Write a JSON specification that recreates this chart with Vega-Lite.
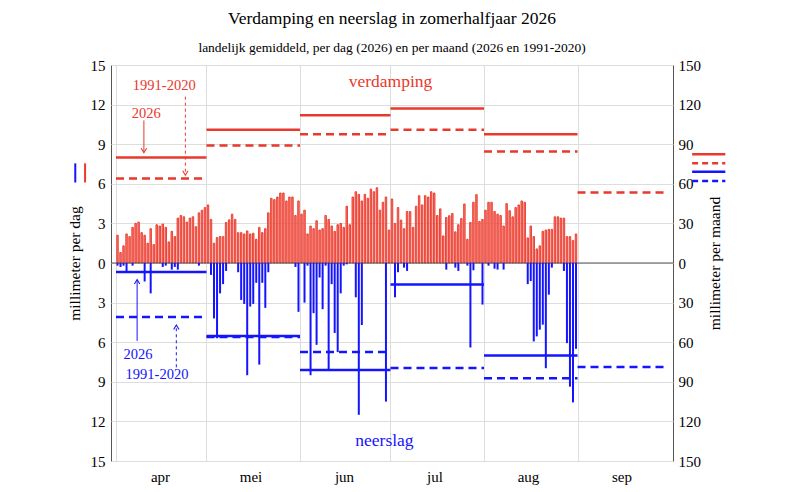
{
  "$schema": "https://vega.github.io/schema/vega-lite/v6.json",
  "width": 562,
  "height": 396,
  "autosize": "none",
  "padding": {"left": 111, "top": 65, "right": 117, "bottom": 31},
  "title": {
    "text": "Verdamping en neerslag in zomerhalfjaar 2026",
    "subtitle": "landelijk gemiddeld, per dag (2026) en per maand (2026 en 1991-2020)",
    "font": "Liberation Serif",
    "fontSize": 17.5,
    "fontWeight": "normal",
    "subtitleFont": "Liberation Serif",
    "subtitleFontSize": 13.5,
    "subtitleColor": "black",
    "anchor": "middle",
    "frame": "group",
    "offset": 4,
    "subtitlePadding": 13
  },
  "datasets": {
    "dag": [
      {"d": "2026-04-01", "v": 2.1, "n": 0.2}, {"d": "2026-04-02", "v": 0.8, "n": 0.3}, {"d": "2026-04-03", "v": 1.3, "n": 0.2},
      {"d": "2026-04-04", "v": 2.2, "n": 0.7}, {"d": "2026-04-05", "v": 2.0, "n": 0}, {"d": "2026-04-06", "v": 2.7, "n": 0.2},
      {"d": "2026-04-07", "v": 3.0, "n": 0}, {"d": "2026-04-08", "v": 3.1, "n": 0}, {"d": "2026-04-09", "v": 2.3, "n": 0},
      {"d": "2026-04-10", "v": 2.1, "n": 1.4}, {"d": "2026-04-11", "v": 1.5, "n": 0}, {"d": "2026-04-12", "v": 2.6, "n": 2.3},
      {"d": "2026-04-13", "v": 1.4, "n": 0}, {"d": "2026-04-14", "v": 2.9, "n": 0}, {"d": "2026-04-15", "v": 2.8, "n": 0},
      {"d": "2026-04-16", "v": 2.95, "n": 0.3}, {"d": "2026-04-17", "v": 2.7, "n": 0.2}, {"d": "2026-04-18", "v": 1.6, "n": 0},
      {"d": "2026-04-19", "v": 2.4, "n": 0.5}, {"d": "2026-04-20", "v": 2.0, "n": 0.3}, {"d": "2026-04-21", "v": 3.4, "n": 0.5},
      {"d": "2026-04-22", "v": 3.6, "n": 0}, {"d": "2026-04-23", "v": 3.5, "n": 0}, {"d": "2026-04-24", "v": 3.1, "n": 0},
      {"d": "2026-04-25", "v": 3.4, "n": 0}, {"d": "2026-04-26", "v": 3.5, "n": 0}, {"d": "2026-04-27", "v": 2.75, "n": 0},
      {"d": "2026-04-28", "v": 3.8, "n": 0.2}, {"d": "2026-04-29", "v": 4.0, "n": 0}, {"d": "2026-04-30", "v": 4.2, "n": 0},
      {"d": "2026-05-01", "v": 4.4, "n": 0}, {"d": "2026-05-02", "v": 3.3, "n": 0.9}, {"d": "2026-05-03", "v": 1.5, "n": 4.2},
      {"d": "2026-05-04", "v": 1.93, "n": 5.7}, {"d": "2026-05-05", "v": 2.0, "n": 2.3}, {"d": "2026-05-06", "v": 2.0, "n": 1.6},
      {"d": "2026-05-07", "v": 3.07, "n": 0.6}, {"d": "2026-05-08", "v": 3.27, "n": 0}, {"d": "2026-05-09", "v": 3.7, "n": 0},
      {"d": "2026-05-10", "v": 3.3, "n": 0}, {"d": "2026-05-11", "v": 2.3, "n": 0.7}, {"d": "2026-05-12", "v": 2.3, "n": 2.8},
      {"d": "2026-05-13", "v": 2.2, "n": 3.1}, {"d": "2026-05-14", "v": 2.43, "n": 8.5}, {"d": "2026-05-15", "v": 2.2, "n": 3.3},
      {"d": "2026-05-16", "v": 2.25, "n": 3.1}, {"d": "2026-05-17", "v": 1.8, "n": 1.5}, {"d": "2026-05-18", "v": 2.7, "n": 7.7},
      {"d": "2026-05-19", "v": 2.3, "n": 1.5}, {"d": "2026-05-20", "v": 2.6, "n": 3.4}, {"d": "2026-05-21", "v": 3.8, "n": 0.7},
      {"d": "2026-05-22", "v": 4.9, "n": 0}, {"d": "2026-05-23", "v": 4.8, "n": 0}, {"d": "2026-05-24", "v": 5.0, "n": 0},
      {"d": "2026-05-25", "v": 5.3, "n": 0}, {"d": "2026-05-26", "v": 5.3, "n": 0}, {"d": "2026-05-27", "v": 4.7, "n": 0},
      {"d": "2026-05-28", "v": 5.0, "n": 0}, {"d": "2026-05-29", "v": 5.0, "n": 0}, {"d": "2026-05-30", "v": 3.6, "n": 0.3},
      {"d": "2026-05-31", "v": 4.7, "n": 3.7},
      {"d": "2026-06-01", "v": 3.7, "n": 0}, {"d": "2026-06-02", "v": 4.0, "n": 3.0}, {"d": "2026-06-03", "v": 2.2, "n": 0.2},
      {"d": "2026-06-04", "v": 2.8, "n": 8.5}, {"d": "2026-06-05", "v": 2.6, "n": 3.8}, {"d": "2026-06-06", "v": 3.2, "n": 6.2},
      {"d": "2026-06-07", "v": 2.5, "n": 1.1}, {"d": "2026-06-08", "v": 2.6, "n": 3.5}, {"d": "2026-06-09", "v": 3.6, "n": 0.2},
      {"d": "2026-06-10", "v": 3.3, "n": 8.1}, {"d": "2026-06-11", "v": 2.8, "n": 1.6}, {"d": "2026-06-12", "v": 2.4, "n": 5.3},
      {"d": "2026-06-13", "v": 2.9, "n": 6.75}, {"d": "2026-06-14", "v": 3.0, "n": 2.3}, {"d": "2026-06-15", "v": 2.7, "n": 0.2},
      {"d": "2026-06-16", "v": 4.3, "n": 0.1}, {"d": "2026-06-17", "v": 2.9, "n": 0}, {"d": "2026-06-18", "v": 5.0, "n": 0},
      {"d": "2026-06-19", "v": 5.4, "n": 2.6}, {"d": "2026-06-20", "v": 5.2, "n": 11.5}, {"d": "2026-06-21", "v": 4.7, "n": 4.7},
      {"d": "2026-06-22", "v": 5.2, "n": 0}, {"d": "2026-06-23", "v": 4.9, "n": 0}, {"d": "2026-06-24", "v": 5.6, "n": 0},
      {"d": "2026-06-25", "v": 5.4, "n": 0}, {"d": "2026-06-26", "v": 5.7, "n": 0}, {"d": "2026-06-27", "v": 4.0, "n": 0},
      {"d": "2026-06-28", "v": 4.6, "n": 0}, {"d": "2026-06-29", "v": 5.0, "n": 10.5}, {"d": "2026-06-30", "v": 2.5, "n": 0},
      {"d": "2026-07-01", "v": 4.85, "n": 0}, {"d": "2026-07-02", "v": 3.0, "n": 2.6}, {"d": "2026-07-03", "v": 4.2, "n": 0.7},
      {"d": "2026-07-04", "v": 3.25, "n": 0}, {"d": "2026-07-05", "v": 2.6, "n": 0.35}, {"d": "2026-07-06", "v": 3.9, "n": 0.6},
      {"d": "2026-07-07", "v": 3.9, "n": 0}, {"d": "2026-07-08", "v": 2.7, "n": 0}, {"d": "2026-07-09", "v": 4.3, "n": 0},
      {"d": "2026-07-10", "v": 5.1, "n": 0}, {"d": "2026-07-11", "v": 4.4, "n": 0}, {"d": "2026-07-12", "v": 5.1, "n": 0},
      {"d": "2026-07-13", "v": 5.0, "n": 0}, {"d": "2026-07-14", "v": 5.4, "n": 0}, {"d": "2026-07-15", "v": 5.3, "n": 0},
      {"d": "2026-07-16", "v": 3.6, "n": 0}, {"d": "2026-07-17", "v": 4.1, "n": 0}, {"d": "2026-07-18", "v": 2.05, "n": 0},
      {"d": "2026-07-19", "v": 3.45, "n": 0.5}, {"d": "2026-07-20", "v": 3.58, "n": 0}, {"d": "2026-07-21", "v": 3.75, "n": 0},
      {"d": "2026-07-22", "v": 2.36, "n": 0.35}, {"d": "2026-07-23", "v": 2.9, "n": 0.6}, {"d": "2026-07-24", "v": 3.37, "n": 0},
      {"d": "2026-07-25", "v": 4.47, "n": 0}, {"d": "2026-07-26", "v": 1.8, "n": 0.2}, {"d": "2026-07-27", "v": 3.07, "n": 6.4},
      {"d": "2026-07-28", "v": 4.6, "n": 0.55}, {"d": "2026-07-29", "v": 5.18, "n": 0}, {"d": "2026-07-30", "v": 3.15, "n": 0},
      {"d": "2026-07-31", "v": 3.3, "n": 3.15},
      {"d": "2026-08-01", "v": 4.0, "n": 0}, {"d": "2026-08-02", "v": 4.6, "n": 0.2}, {"d": "2026-08-03", "v": 4.6, "n": 0},
      {"d": "2026-08-04", "v": 3.9, "n": 0.43}, {"d": "2026-08-05", "v": 3.7, "n": 0.5}, {"d": "2026-08-06", "v": 3.6, "n": 0},
      {"d": "2026-08-07", "v": 2.8, "n": 0.5}, {"d": "2026-08-08", "v": 4.5, "n": 0}, {"d": "2026-08-09", "v": 3.96, "n": 0},
      {"d": "2026-08-10", "v": 3.5, "n": 0}, {"d": "2026-08-11", "v": 4.2, "n": 0}, {"d": "2026-08-12", "v": 4.4, "n": 0},
      {"d": "2026-08-13", "v": 4.7, "n": 0}, {"d": "2026-08-14", "v": 4.6, "n": 0}, {"d": "2026-08-15", "v": 1.9, "n": 1.6},
      {"d": "2026-08-16", "v": 2.8, "n": 1.37}, {"d": "2026-08-17", "v": 2.0, "n": 5.94}, {"d": "2026-08-18", "v": 1.07, "n": 5.56},
      {"d": "2026-08-19", "v": 1.3, "n": 5.05}, {"d": "2026-08-20", "v": 2.4, "n": 4.67}, {"d": "2026-08-21", "v": 2.5, "n": 7.97},
      {"d": "2026-08-22", "v": 2.55, "n": 2.4}, {"d": "2026-08-23", "v": 2.55, "n": 0.35}, {"d": "2026-08-24", "v": 3.5, "n": 0},
      {"d": "2026-08-25", "v": 3.5, "n": 0}, {"d": "2026-08-26", "v": 3.4, "n": 0}, {"d": "2026-08-27", "v": 3.4, "n": 0.6},
      {"d": "2026-08-28", "v": 2.0, "n": 6.07}, {"d": "2026-08-29", "v": 2.0, "n": 9.37}, {"d": "2026-08-30", "v": 1.7, "n": 10.56},
      {"d": "2026-08-31", "v": 2.2, "n": 6.5}
    ],
    "maand": [
      {"begin": "2026-04-01", "eind": "2026-05-01", "soort": "verdamping", "periode": "2026", "mm": 80},
      {"begin": "2026-05-01", "eind": "2026-06-01", "soort": "verdamping", "periode": "2026", "mm": 101},
      {"begin": "2026-06-01", "eind": "2026-07-01", "soort": "verdamping", "periode": "2026", "mm": 112},
      {"begin": "2026-07-01", "eind": "2026-08-01", "soort": "verdamping", "periode": "2026", "mm": 117},
      {"begin": "2026-08-01", "eind": "2026-09-01", "soort": "verdamping", "periode": "2026", "mm": 97.5},
      {"begin": "2026-04-01", "eind": "2026-05-01", "soort": "verdamping", "periode": "1991-2020", "mm": 64},
      {"begin": "2026-05-01", "eind": "2026-06-01", "soort": "verdamping", "periode": "1991-2020", "mm": 89},
      {"begin": "2026-06-01", "eind": "2026-07-01", "soort": "verdamping", "periode": "1991-2020", "mm": 97.5},
      {"begin": "2026-07-01", "eind": "2026-08-01", "soort": "verdamping", "periode": "1991-2020", "mm": 101},
      {"begin": "2026-08-01", "eind": "2026-09-01", "soort": "verdamping", "periode": "1991-2020", "mm": 84.5},
      {"begin": "2026-09-01", "eind": "2026-10-01", "soort": "verdamping", "periode": "1991-2020", "mm": 53.5},
      {"begin": "2026-04-01", "eind": "2026-05-01", "soort": "neerslag", "periode": "2026", "mm": 6.9},
      {"begin": "2026-05-01", "eind": "2026-06-01", "soort": "neerslag", "periode": "2026", "mm": 55.3},
      {"begin": "2026-06-01", "eind": "2026-07-01", "soort": "neerslag", "periode": "2026", "mm": 81},
      {"begin": "2026-07-01", "eind": "2026-08-01", "soort": "neerslag", "periode": "2026", "mm": 16.3},
      {"begin": "2026-08-01", "eind": "2026-09-01", "soort": "neerslag", "periode": "2026", "mm": 70},
      {"begin": "2026-04-01", "eind": "2026-05-01", "soort": "neerslag", "periode": "1991-2020", "mm": 41},
      {"begin": "2026-05-01", "eind": "2026-06-01", "soort": "neerslag", "periode": "1991-2020", "mm": 56},
      {"begin": "2026-06-01", "eind": "2026-07-01", "soort": "neerslag", "periode": "1991-2020", "mm": 67.5},
      {"begin": "2026-07-01", "eind": "2026-08-01", "soort": "neerslag", "periode": "1991-2020", "mm": 79.5},
      {"begin": "2026-08-01", "eind": "2026-09-01", "soort": "neerslag", "periode": "1991-2020", "mm": 87.3},
      {"begin": "2026-09-01", "eind": "2026-10-01", "soort": "neerslag", "periode": "1991-2020", "mm": 78.7}
    ]
  },
  "resolve": {"scale": {"y": "independent"}, "axis": {"y": "independent"}},
  "layer": [
    {
      "layer": [
        {
          "data": {"name": "dag"},
          "mark": {"type": "bar", "width": 1.5, "xOffset": 1.5, "fill": "#f47c72", "stroke": "#ec3528", "strokeWidth": 0.9},
          "encoding": {
            "x": {
              "field": "d",
              "type": "temporal",
              "scale": {
                "type": "utc",
                "domain": [
                  {"year": 2026, "month": 4, "date": 1, "utc": true},
                  {"year": 2026, "month": 10, "date": 1, "utc": true}
                ]
              },
              "axis": {
                "title": null,
                "values": [
                  {"year": 2026, "month": 4, "date": 1, "utc": true},
                  {"year": 2026, "month": 5, "date": 1, "utc": true},
                  {"year": 2026, "month": 6, "date": 1, "utc": true},
                  {"year": 2026, "month": 7, "date": 1, "utc": true},
                  {"year": 2026, "month": 8, "date": 1, "utc": true},
                  {"year": 2026, "month": 9, "date": 1, "utc": true}
                ],
                "tickCount": 12,
                "labelExpr": "['jan','feb','mrt','apr','mei','jun','jul','aug','sep','okt','nov','dec'][utcmonth(datum.value)]",
                "labelOffset": 44,
                "labelFlush": false,
                "labelOverlap": false,
                "labelPadding": 8,
                "grid": true,
                "gridColor": "#dddddd"
              }
            },
            "y": {
              "field": "v",
              "type": "quantitative",
              "scale": {"domain": [-15, 15], "nice": false},
              "axis": {
                "orient": "left",
                "title": "millimeter per dag",
                "values": [-15, -12, -9, -6, -3, 0, 3, 6, 9, 12, 15],
                "tickCount": 12,
                "labelExpr": "'' + abs(datum.value)",
                "labelOverlap": false,
                "grid": true,
                "gridColor": "#dddddd",
                "labelPadding": 6,
                "titlePadding": 8
              }
            }
          }
        },
        {
          "data": {"values": [{}]},
          "mark": {"type": "rule", "color": "#555555", "strokeWidth": 1.2},
          "encoding": {"y": {"datum": 0}}
        },
        {
          "data": {"values": [{}]},
          "mark": {"type": "text", "text": "verdamping", "color": "#e8392c", "font": "Liberation Serif", "fontSize": 17.5},
          "encoding": {
            "x": {"datum": {"year": 2026, "month": 7, "date": 1, "utc": true}, "type": "temporal"},
            "y": {"datum": 13.7}
          }
        },
        {
          "data": {"values": [{}]},
          "mark": {"type": "text", "text": "neerslag", "color": "#1414ff", "font": "Liberation Serif", "fontSize": 17.5},
          "encoding": {
            "x": {"datum": {"year": 2026, "month": 6, "date": 29, "utc": true}, "type": "temporal"},
            "y": {"datum": -13.5}
          }
        },
        {
          "data": {"values": [{}]},
          "mark": {"type": "text", "text": "1991-2020", "color": "#e8392c", "font": "Liberation Serif", "fontSize": 14.5},
          "encoding": {
            "x": {"datum": {"year": 2026, "month": 4, "date": 17, "utc": true}, "type": "temporal"},
            "y": {"datum": 13.4}
          }
        },
        {
          "data": {"values": [{}]},
          "mark": {"type": "text", "text": "2026", "color": "#e8392c", "font": "Liberation Serif", "fontSize": 14.5},
          "encoding": {
            "x": {"datum": {"year": 2026, "month": 4, "date": 11, "utc": true}, "type": "temporal"},
            "y": {"datum": 11.3}
          }
        },
        {
          "data": {"values": [{}]},
          "mark": {"type": "text", "text": "2026", "color": "#1414ff", "font": "Liberation Serif", "fontSize": 14.5},
          "encoding": {
            "x": {"datum": {"year": 2026, "month": 4, "date": 8, "hours": 7, "utc": true}, "type": "temporal"},
            "y": {"datum": -7.0}
          }
        },
        {
          "data": {"values": [{}]},
          "mark": {"type": "text", "text": "1991-2020", "color": "#1414ff", "font": "Liberation Serif", "fontSize": 14.5},
          "encoding": {
            "x": {"datum": {"year": 2026, "month": 4, "date": 14, "hours": 14, "utc": true}, "type": "temporal"},
            "y": {"datum": -8.5}
          }
        },
        {
          "data": {"values": [{}]},
          "mark": {"type": "rule", "color": "#e8392c", "strokeWidth": 1},
          "encoding": {
            "x": {"datum": {"year": 2026, "month": 4, "date": 10, "hours": 6, "utc": true}, "type": "temporal"},
            "y": {"datum": 10.8},
            "y2": {"datum": 8.4}
          }
        },
        {
          "data": {"values": [{}]},
          "mark": {"type": "point", "shape": "M-0.6,-1L0,0L0.6,-1", "filled": false, "size": 80, "color": "#e8392c", "strokeWidth": 1.1, "opacity": 1},
          "encoding": {
            "x": {"datum": {"year": 2026, "month": 4, "date": 10, "hours": 6, "utc": true}, "type": "temporal"},
            "y": {"datum": 8.35}
          }
        },
        {
          "data": {"values": [{}]},
          "mark": {"type": "rule", "color": "#e8392c", "strokeWidth": 1, "strokeDash": [3, 3]},
          "encoding": {
            "x": {"datum": {"year": 2026, "month": 4, "date": 24, "utc": true}, "type": "temporal"},
            "y": {"datum": 12.6},
            "y2": {"datum": 6.7}
          }
        },
        {
          "data": {"values": [{}]},
          "mark": {"type": "point", "shape": "M-0.6,-1L0,0L0.6,-1", "filled": false, "size": 80, "color": "#e8392c", "strokeWidth": 1.1, "opacity": 1},
          "encoding": {
            "x": {"datum": {"year": 2026, "month": 4, "date": 24, "utc": true}, "type": "temporal"},
            "y": {"datum": 6.65}
          }
        },
        {
          "data": {"values": [{}]},
          "mark": {"type": "rule", "color": "#1414ff", "strokeWidth": 1},
          "encoding": {
            "x": {"datum": {"year": 2026, "month": 4, "date": 8, "utc": true}, "type": "temporal"},
            "y": {"datum": -5.9},
            "y2": {"datum": -1.3}
          }
        },
        {
          "data": {"values": [{}]},
          "mark": {"type": "point", "shape": "M-0.6,1L0,0L0.6,1", "filled": false, "size": 80, "color": "#1414ff", "strokeWidth": 1.1, "opacity": 1},
          "encoding": {
            "x": {"datum": {"year": 2026, "month": 4, "date": 8, "utc": true}, "type": "temporal"},
            "y": {"datum": -1.25}
          }
        },
        {
          "data": {"values": [{}]},
          "mark": {"type": "rule", "color": "#1414ff", "strokeWidth": 1, "strokeDash": [3, 3]},
          "encoding": {
            "x": {"datum": {"year": 2026, "month": 4, "date": 21, "utc": true}, "type": "temporal"},
            "y": {"datum": -7.9},
            "y2": {"datum": -4.75}
          }
        },
        {
          "data": {"values": [{}]},
          "mark": {"type": "point", "shape": "M-0.6,1L0,0L0.6,1", "filled": false, "size": 80, "color": "#1414ff", "strokeWidth": 1.1, "opacity": 1},
          "encoding": {
            "x": {"datum": {"year": 2026, "month": 4, "date": 21, "utc": true}, "type": "temporal"},
            "y": {"datum": -4.7}
          }
        },
        {
          "data": {"values": [{}]},
          "mark": {"type": "rule", "color": "#1414ff", "strokeWidth": 2},
          "encoding": {
            "x": {"datum": {"year": 2026, "month": 3, "date": 18, "hours": 12, "utc": true}, "type": "temporal"},
            "y": {"datum": 6.1},
            "y2": {"datum": 7.55}
          }
        },
        {
          "data": {"values": [{}]},
          "mark": {"type": "rule", "color": "#e8392c", "strokeWidth": 2},
          "encoding": {
            "x": {"datum": {"year": 2026, "month": 3, "date": 21, "hours": 18, "utc": true}, "type": "temporal"},
            "y": {"datum": 6.1},
            "y2": {"datum": 7.55}
          }
        }
      ]
    },
    {
      "data": {"name": "dag"},
      "transform": [{"filter": "datum.n > 0"}],
      "mark": {"type": "bar", "width": 2, "xOffset": 1.5, "color": "#1414ff"},
      "encoding": {
        "x": {"field": "d", "type": "temporal"},
        "y": {
          "field": "n",
          "type": "quantitative",
          "scale": {"domain": [-15, 15], "nice": false, "reverse": true},
          "axis": null
        }
      }
    },
    {
      "layer": [
        {
          "data": {"name": "maand"},
          "transform": [{"filter": "datum.soort == 'verdamping' && datum.periode == '2026'"}],
          "mark": {"type": "rule", "color": "#e8392c", "strokeWidth": 2.5},
          "encoding": {
            "x": {"field": "begin", "type": "temporal"},
            "x2": {"field": "eind"},
            "y": {
              "field": "mm",
              "type": "quantitative",
              "scale": {"domain": [-150, 150], "nice": false},
              "axis": {
                "orient": "right",
                "title": "millimeter per maand",
                "titleAngle": 270,
                "values": [-150, -120, -90, -60, -30, 0, 30, 60, 90, 120, 150],
                "tickCount": 12,
                "labelExpr": "'' + abs(datum.value)",
                "labelOverlap": false,
                "grid": false,
                "labelPadding": 5,
                "titlePadding": 22
              }
            }
          }
        },
        {
          "data": {"name": "maand"},
          "transform": [{"filter": "datum.soort == 'verdamping' && datum.periode == '1991-2020'"}],
          "mark": {"type": "rule", "color": "#e8392c", "strokeWidth": 2.5, "strokeDash": [8, 5]},
          "encoding": {
            "x": {"field": "begin", "type": "temporal"},
            "x2": {"field": "eind"},
            "y": {"field": "mm", "type": "quantitative"}
          }
        },
        {
          "data": {"values": [{}]},
          "mark": {"type": "rule", "color": "#e8392c", "strokeWidth": 2.5},
          "encoding": {
            "x": {"datum": {"year": 2026, "month": 10, "date": 9, "utc": true}, "type": "temporal"},
            "x2": {"datum": {"year": 2026, "month": 10, "date": 20, "utc": true}},
            "y": {"datum": 82.3}
          }
        },
        {
          "data": {"values": [{}]},
          "mark": {"type": "rule", "color": "#e8392c", "strokeWidth": 2.5, "strokeDash": [6, 4]},
          "encoding": {
            "x": {"datum": {"year": 2026, "month": 10, "date": 9, "utc": true}, "type": "temporal"},
            "x2": {"datum": {"year": 2026, "month": 10, "date": 20, "utc": true}},
            "y": {"datum": 75.6}
          }
        },
        {
          "data": {"values": [{}]},
          "mark": {"type": "rule", "color": "#1414ff", "strokeWidth": 2.5},
          "encoding": {
            "x": {"datum": {"year": 2026, "month": 10, "date": 9, "utc": true}, "type": "temporal"},
            "x2": {"datum": {"year": 2026, "month": 10, "date": 20, "utc": true}},
            "y": {"datum": 69.1}
          }
        },
        {
          "data": {"values": [{}]},
          "mark": {"type": "rule", "color": "#1414ff", "strokeWidth": 2.5, "strokeDash": [6, 4]},
          "encoding": {
            "x": {"datum": {"year": 2026, "month": 10, "date": 9, "utc": true}, "type": "temporal"},
            "x2": {"datum": {"year": 2026, "month": 10, "date": 20, "utc": true}},
            "y": {"datum": 62.2}
          }
        }
      ]
    },
    {
      "layer": [
        {
          "data": {"name": "maand"},
          "transform": [{"filter": "datum.soort == 'neerslag' && datum.periode == '2026'"}],
          "mark": {"type": "rule", "color": "#1414ff", "strokeWidth": 2.5},
          "encoding": {
            "x": {"field": "begin", "type": "temporal"},
            "x2": {"field": "eind"},
            "y": {
              "field": "mm",
              "type": "quantitative",
              "scale": {"domain": [-150, 150], "nice": false, "reverse": true},
              "axis": null
            }
          }
        },
        {
          "data": {"name": "maand"},
          "transform": [{"filter": "datum.soort == 'neerslag' && datum.periode == '1991-2020'"}],
          "mark": {"type": "rule", "color": "#1414ff", "strokeWidth": 2.5, "strokeDash": [8, 5]},
          "encoding": {
            "x": {"field": "begin", "type": "temporal"},
            "x2": {"field": "eind"},
            "y": {"field": "mm", "type": "quantitative"}
          }
        }
      ]
    }
  ],
  "config": {
    "view": {"stroke": "#555555", "strokeWidth": 1},
    "axis": {
      "labelFont": "Liberation Serif",
      "titleFont": "Liberation Serif",
      "labelFontSize": 15,
      "titleFontSize": 15.5,
      "labelColor": "black",
      "titleColor": "black",
      "titleFontWeight": "normal",
      "ticks": false,
      "domain": false,
      "labelOverlap": false
    }
  }
}
